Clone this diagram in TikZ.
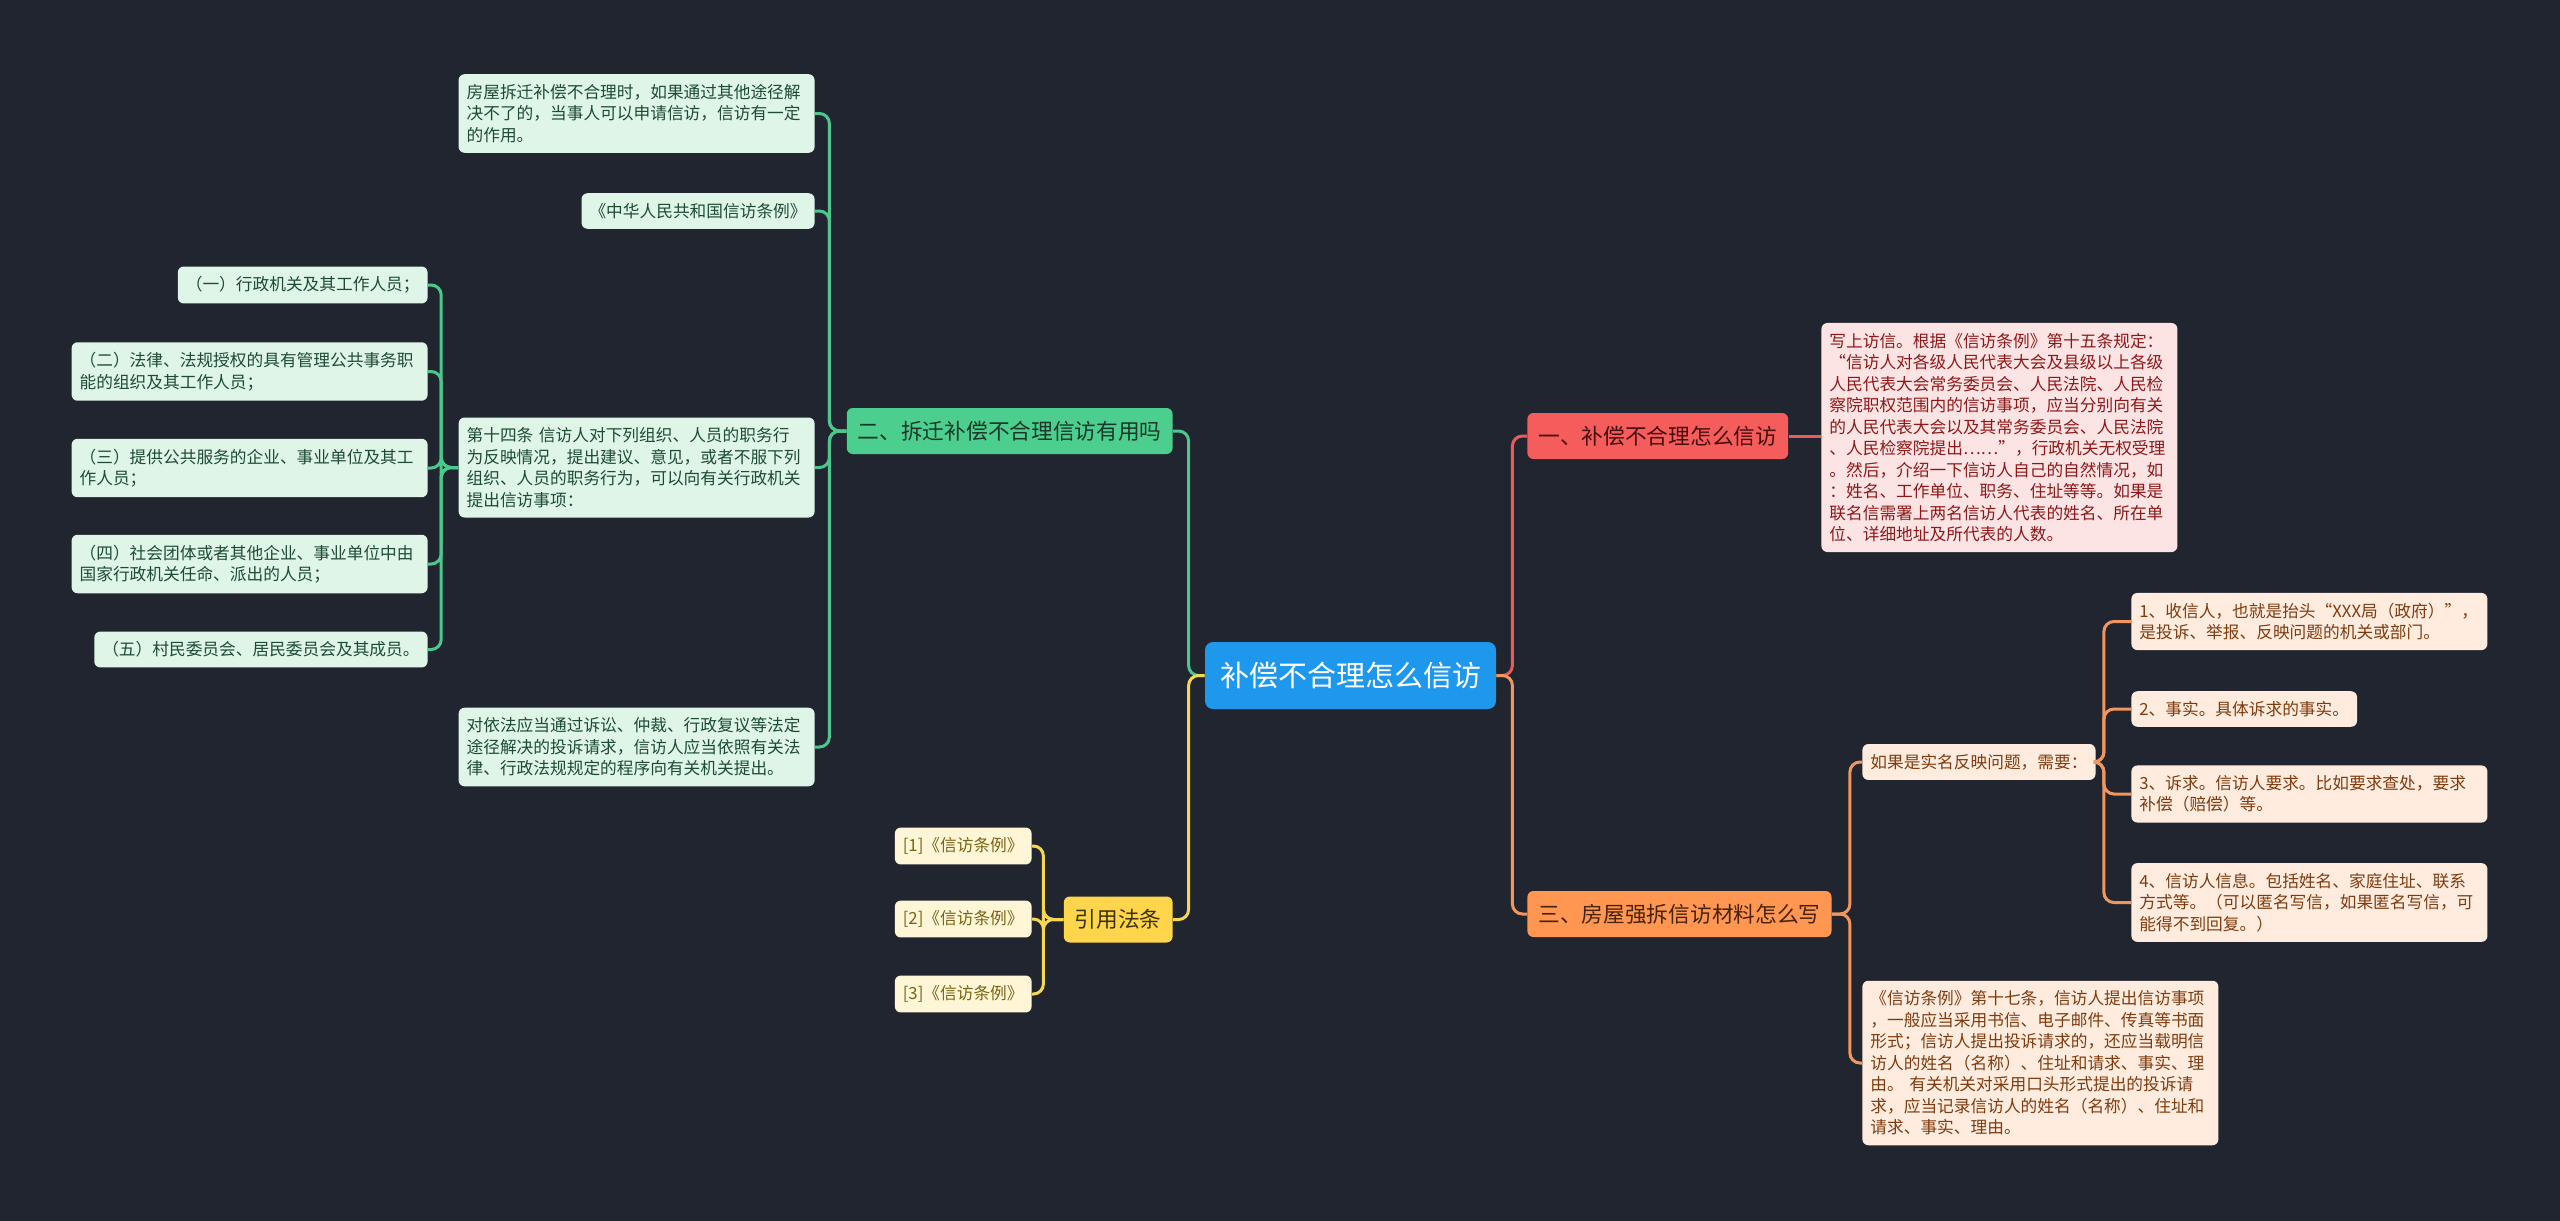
\documentclass[tikz,border=0pt]{standalone}
\usepackage{fontspec}
\setmainfont{Noto Sans CJK SC}
\usetikzlibrary{positioning}
\definecolor{bgdark}{RGB}{33,37,47}
\definecolor{rootblue}{RGB}{30,152,236}
\definecolor{redfill}{RGB}{245,92,92}
\definecolor{redtext}{RGB}{70,12,12}
\definecolor{redleaffill}{RGB}{253,228,228}
\definecolor{redleaftext}{RGB}{140,25,25}
\definecolor{redline}{RGB}{232,92,92}
\definecolor{greenfill}{RGB}{76,206,142}
\definecolor{greentext}{RGB}{25,55,40}
\definecolor{greenleaffill}{RGB}{222,245,232}
\definecolor{greenleaftext}{RGB}{30,75,50}
\definecolor{greenline}{RGB}{76,200,140}
\definecolor{orangefill}{RGB}{255,150,82}
\definecolor{orangetext}{RGB}{70,35,10}
\definecolor{orangeleaffill}{RGB}{255,236,222}
\definecolor{orangeleaftext}{RGB}{125,60,15}
\definecolor{orangeline}{RGB}{240,150,95}
\definecolor{yellowfill}{RGB}{255,213,76}
\definecolor{yellowtext}{RGB}{60,50,10}
\definecolor{yellowleaffill}{RGB}{255,246,216}
\definecolor{yellowleaftext}{RGB}{120,100,20}
\definecolor{yellowline}{RGB}{245,215,85}
\newcommand{\leafsize}{\fontsize{8.35pt}{10.75pt}\selectfont}
\newcommand{\branchsize}{\fontsize{10.85pt}{13pt}\selectfont}
\newcommand{\rootsize}{\fontsize{14.5pt}{17pt}\selectfont}

\begin{document}
\begin{tikzpicture}[
      x=0.5pt, y=-0.5pt,
      rootbox/.style={rectangle, fill=rootblue, text=white, rounded corners=4pt, font=\rootsize, minimum width=145.5pt, minimum height=33.5pt},
      branch/.style={rectangle, rounded corners=3pt, font=\branchsize, inner xsep=5.5pt, minimum height=23pt},
      leaf/.style={rectangle, rounded corners=3pt, font=\leafsize, inner xsep=4pt, inner ysep=5pt, align=left},
      wide/.style={text width=170pt},
      redbranch/.style={branch, fill=redfill, text=redtext},
      greenbranch/.style={branch, fill=greenfill, text=greentext},
      orangebranch/.style={branch, fill=orangefill, text=orangetext},
      yellowbranch/.style={branch, fill=yellowfill, text=yellowtext},
      redleaf/.style={leaf, fill=redleaffill, text=redleaftext},
      greenleaf/.style={leaf, fill=greenleaffill, text=greenleaftext},
      orangeleaf/.style={leaf, fill=orangeleaffill, text=orangeleaftext},
      yellowleaf/.style={leaf, fill=yellowleaffill, text=yellowleaftext},
      conn/.style={draw=#1, line width=1.5pt, rounded corners=5pt}
    ]
      \fill[bgdark] (0,0) rectangle (2560,1221);
      \useasboundingbox (0,0) rectangle (2560,1221);

      \node[rootbox] (root) at (1350.5,675.5) {补偿不合理怎么信访};

      % main branches
      \node[redbranch, anchor=west] (b1) at (1527,436) {一、补偿不合理怎么信访};
      \node[greenbranch, anchor=east] (b2) at (1173,431) {二、拆迁补偿不合理信访有用吗};
      \node[orangebranch, anchor=west] (b3) at (1527,914) {三、房屋强拆信访材料怎么写};
      \node[yellowbranch, anchor=east] (b4) at (1173,919.5) {引用法条};

      % branch one
      \node[redleaf, wide, anchor=west] (r1) at (1821,437.5) {写上访信。根据《信访条例》第十五条规定：\\“信访人对各级人民代表大会及县级以上各级\\人民代表大会常务委员会、人民法院、人民检\\察院职权范围内的信访事项，应当分别向有关\\的人民代表大会以及其常务委员会、人民法院\\、人民检察院提出……”，行政机关无权受理\\。然后，介绍一下信访人自己的自然情况，如\\：姓名、工作单位、职务、住址等等。如果是\\联名信需署上两名信访人代表的姓名、所在单\\位、详细地址及所代表的人数。};

      % branch two
      \node[greenleaf, wide, anchor=east] (g1) at (815,113.5) {房屋拆迁补偿不合理时，如果通过其他途径解\\决不了的，当事人可以申请信访，信访有一定\\的作用。};
      \node[greenleaf, anchor=east] (g2) at (815,211) {《中华人民共和国信访条例》};
      \node[greenleaf, wide, anchor=east] (g3) at (815,467.5) {第十四条 信访人对下列组织、人员的职务行\\为反映情况，提出建议、意见，或者不服下列\\组织、人员的职务行为，可以向有关行政机关\\提出信访事项：};
      \node[greenleaf, wide, anchor=east] (g4) at (815,747) {对依法应当通过诉讼、仲裁、行政复议等法定\\途径解决的投诉请求，信访人应当依照有关法\\律、行政法规规定的程序向有关机关提出。};
      \node[greenleaf, anchor=east] (s1) at (428,285) {（一）行政机关及其工作人员；};
      \node[greenleaf, wide, anchor=east] (s2) at (428,371.5) {（二）法律、法规授权的具有管理公共事务职\\能的组织及其工作人员；};
      \node[greenleaf, wide, anchor=east] (s3) at (428,468) {（三）提供公共服务的企业、事业单位及其工\\作人员；};
      \node[greenleaf, wide, anchor=east] (s4) at (428,564) {（四）社会团体或者其他企业、事业单位中由\\国家行政机关任命、派出的人员；};
      \node[greenleaf, anchor=east] (s5) at (428,649.5) {（五）村民委员会、居民委员会及其成员。};

      % branch three
      \node[orangeleaf, anchor=west] (o1) at (1862,762) {如果是实名反映问题，需要：};
      \node[orangeleaf, wide, anchor=west] (o2) at (1862,1063) {《信访条例》第十七条，信访人提出信访事项\\，一般应当采用书信、电子邮件、传真等书面\\形式；信访人提出投诉请求的，还应当载明信\\访人的姓名（名称）、住址和请求、事实、理\\由。 有关机关对采用口头形式提出的投诉请\\求，应当记录信访人的姓名（名称）、住址和\\请求、事实、理由。};
      \node[orangeleaf, wide, anchor=west] (i1) at (2131,621.5) {1、收信人，也就是抬头“XXX局（政府）”，\\是投诉、举报、反映问题的机关或部门。};
      \node[orangeleaf, anchor=west] (i2) at (2131,709) {2、事实。具体诉求的事实。};
      \node[orangeleaf, wide, anchor=west] (i3) at (2131,794) {3、诉求。信访人要求。比如要求查处，要求\\补偿（赔偿）等。};
      \node[orangeleaf, wide, anchor=west] (i4) at (2131,902.5) {4、信访人信息。包括姓名、家庭住址、联系\\方式等。（可以匿名写信，如果匿名写信，可\\能得不到回复。）};

      % references
      \node[yellowleaf, anchor=east] (y1) at (1032,846) {[1]《信访条例》};
      \node[yellowleaf, anchor=east] (y2) at (1032,919) {[2]《信访条例》};
      \node[yellowleaf, anchor=east] (y3) at (1032,994) {[3]《信访条例》};

      % connectors
      \draw[conn=redline] (root.east) -- ++(16,0) |- (b1.west);
      \draw[conn=orangeline] (root.east) -- ++(16,0) |- (b3.west);
      \draw[conn=greenline] (root.west) -- ++(-16,0) |- (b2.east);
      \draw[conn=yellowline] (root.west) -- ++(-16,0) |- (b4.east);
      \draw[conn=redline] (b1.east) -- (b1.east -| r1.west);
      \foreach \n in {g1,g2,g3,g4}
        \draw[conn=greenline] (b2.west) -- ++(-17,0) |- (\n.east);
      \foreach \n in {s1,s2,s3,s4,s5}
        \draw[conn=greenline] (g3.west) -- ++(-17,0) |- (\n.east);
      \foreach \n in {o1,o2}
        \draw[conn=orangeline] (b3.east) -- ++(18,0) |- (\n.west);
      \foreach \n in {i1,i2,i3,i4}
        \draw[conn=orangeline] (o1.east) -- ++(8,0) |- (\n.west);
      \foreach \n in {y1,y2,y3}
        \draw[conn=yellowline] (b4.west) -- ++(-20,0) |- (\n.east);
    \end{tikzpicture}
\end{document}
